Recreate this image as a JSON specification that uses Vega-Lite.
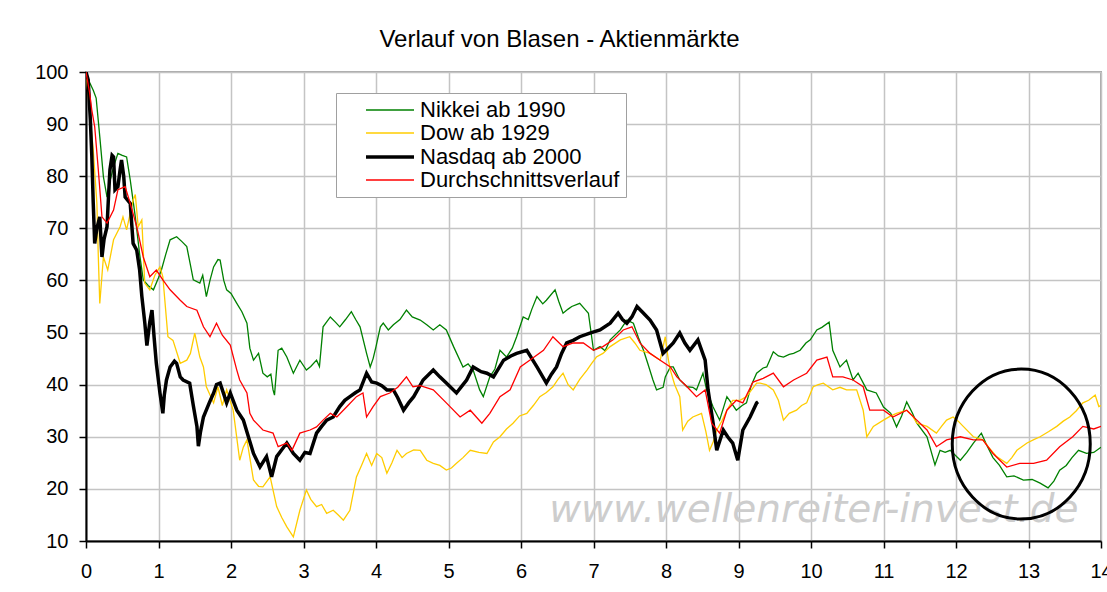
{
"$schema":"https://vega.github.io/schema/vega-lite/v6.json",
"width":1015,"height":469,
"autosize":{"type":"none"},
"padding":{"left":86,"top":72,"right":6,"bottom":51},
"background":"white",
"title":{"text":"Verlauf von Blasen - Aktienmärkte","fontSize":24,"font":"Liberation Sans","fontWeight":"normal","color":"#000","anchor":"middle","dx":-34,"offset":10},
"config":{
 "view":{"stroke":"#a8a8a8","strokeWidth":2},
 "axis":{"labelFont":"Liberation Sans","labelFontSize":20,"labelColor":"#000","labelFlush":false,"tickColor":"#000","tickSize":7,"tickWidth":1.5,"domainColor":"#000","domainWidth":2,"gridColor":"#c4c4c4","gridWidth":1.5,"title":null}
},
"datasets":{
"wm":[{"t":10.04,"value":15.9,"label":"www.wellenreiter-invest.de"}],
"circ":[{"t":12.9,"value":28.6}],
"main":[
{"series":"Nikkei ab 1990","t":0,"value":100},{"series":"Nikkei ab 1990","t":0.05,"value":98},{"series":"Nikkei ab 1990","t":0.1,"value":96.5},{"series":"Nikkei ab 1990","t":0.14,"value":95},{"series":"Nikkei ab 1990","t":0.19,"value":87.6},{"series":"Nikkei ab 1990","t":0.24,"value":79.9},{"series":"Nikkei ab 1990","t":0.29,"value":76},{"series":"Nikkei ab 1990","t":0.33,"value":79},{"series":"Nikkei ab 1990","t":0.38,"value":81.8},{"series":"Nikkei ab 1990","t":0.44,"value":84.4},{"series":"Nikkei ab 1990","t":0.5,"value":84},{"series":"Nikkei ab 1990","t":0.56,"value":83.7},{"series":"Nikkei ab 1990","t":0.61,"value":79.3},{"series":"Nikkei ab 1990","t":0.68,"value":72.2},{"series":"Nikkei ab 1990","t":0.74,"value":65},{"series":"Nikkei ab 1990","t":0.79,"value":60.1},{"series":"Nikkei ab 1990","t":0.86,"value":59},{"series":"Nikkei ab 1990","t":0.93,"value":58.2},{"series":"Nikkei ab 1990","t":1.0,"value":60.5},{"series":"Nikkei ab 1990","t":1.04,"value":62},{"series":"Nikkei ab 1990","t":1.1,"value":65},{"series":"Nikkei ab 1990","t":1.16,"value":67.8},{"series":"Nikkei ab 1990","t":1.25,"value":68.4},{"series":"Nikkei ab 1990","t":1.32,"value":67.5},{"series":"Nikkei ab 1990","t":1.39,"value":66.5},{"series":"Nikkei ab 1990","t":1.44,"value":63},{"series":"Nikkei ab 1990","t":1.48,"value":60.1},{"series":"Nikkei ab 1990","t":1.57,"value":59.5},{"series":"Nikkei ab 1990","t":1.61,"value":61},{"series":"Nikkei ab 1990","t":1.66,"value":56.9},{"series":"Nikkei ab 1990","t":1.71,"value":60},{"series":"Nikkei ab 1990","t":1.76,"value":62.6},{"series":"Nikkei ab 1990","t":1.82,"value":64},{"series":"Nikkei ab 1990","t":1.85,"value":63.9},{"series":"Nikkei ab 1990","t":1.9,"value":60},{"series":"Nikkei ab 1990","t":1.94,"value":58.2},{"series":"Nikkei ab 1990","t":2.0,"value":57.5},{"series":"Nikkei ab 1990","t":2.08,"value":55.6},{"series":"Nikkei ab 1990","t":2.15,"value":54},{"series":"Nikkei ab 1990","t":2.22,"value":51.8},{"series":"Nikkei ab 1990","t":2.26,"value":47},{"series":"Nikkei ab 1990","t":2.31,"value":44.7},{"series":"Nikkei ab 1990","t":2.38,"value":46},{"series":"Nikkei ab 1990","t":2.44,"value":42.2},{"series":"Nikkei ab 1990","t":2.5,"value":41.5},{"series":"Nikkei ab 1990","t":2.55,"value":42},{"series":"Nikkei ab 1990","t":2.58,"value":39},{"series":"Nikkei ab 1990","t":2.6,"value":38},{"series":"Nikkei ab 1990","t":2.65,"value":46.6},{"series":"Nikkei ab 1990","t":2.7,"value":47},{"series":"Nikkei ab 1990","t":2.77,"value":45.3},{"series":"Nikkei ab 1990","t":2.86,"value":42.2},{"series":"Nikkei ab 1990","t":2.95,"value":44.7},{"series":"Nikkei ab 1990","t":3.04,"value":42.8},{"series":"Nikkei ab 1990","t":3.1,"value":43.5},{"series":"Nikkei ab 1990","t":3.18,"value":44.7},{"series":"Nikkei ab 1990","t":3.22,"value":43.5},{"series":"Nikkei ab 1990","t":3.27,"value":51.1},{"series":"Nikkei ab 1990","t":3.37,"value":53},{"series":"Nikkei ab 1990","t":3.44,"value":52},{"series":"Nikkei ab 1990","t":3.5,"value":51.1},{"series":"Nikkei ab 1990","t":3.58,"value":52.5},{"series":"Nikkei ab 1990","t":3.66,"value":54},{"series":"Nikkei ab 1990","t":3.72,"value":52.5},{"series":"Nikkei ab 1990","t":3.78,"value":51.1},{"series":"Nikkei ab 1990","t":3.87,"value":46},{"series":"Nikkei ab 1990","t":3.92,"value":43.4},{"series":"Nikkei ab 1990","t":3.96,"value":45},{"series":"Nikkei ab 1990","t":4.0,"value":47.3},{"series":"Nikkei ab 1990","t":4.06,"value":51.1},{"series":"Nikkei ab 1990","t":4.1,"value":51.8},{"series":"Nikkei ab 1990","t":4.17,"value":50.5},{"series":"Nikkei ab 1990","t":4.24,"value":51.5},{"series":"Nikkei ab 1990","t":4.33,"value":52.5},{"series":"Nikkei ab 1990","t":4.42,"value":54.3},{"series":"Nikkei ab 1990","t":4.5,"value":53},{"series":"Nikkei ab 1990","t":4.61,"value":52.4},{"series":"Nikkei ab 1990","t":4.7,"value":51.5},{"series":"Nikkei ab 1990","t":4.79,"value":50.5},{"series":"Nikkei ab 1990","t":4.88,"value":51.5},{"series":"Nikkei ab 1990","t":4.97,"value":50.5},{"series":"Nikkei ab 1990","t":5.07,"value":47.3},{"series":"Nikkei ab 1990","t":5.2,"value":43.4},{"series":"Nikkei ab 1990","t":5.27,"value":44},{"series":"Nikkei ab 1990","t":5.34,"value":42.8},{"series":"Nikkei ab 1990","t":5.43,"value":39},{"series":"Nikkei ab 1990","t":5.48,"value":37.7},{"series":"Nikkei ab 1990","t":5.57,"value":41.5},{"series":"Nikkei ab 1990","t":5.64,"value":43},{"series":"Nikkei ab 1990","t":5.71,"value":46.6},{"series":"Nikkei ab 1990","t":5.8,"value":45.3},{"series":"Nikkei ab 1990","t":5.88,"value":47},{"series":"Nikkei ab 1990","t":5.94,"value":49.2},{"series":"Nikkei ab 1990","t":6.03,"value":53},{"series":"Nikkei ab 1990","t":6.1,"value":52.5},{"series":"Nikkei ab 1990","t":6.15,"value":54.5},{"series":"Nikkei ab 1990","t":6.22,"value":56.9},{"series":"Nikkei ab 1990","t":6.3,"value":55.5},{"series":"Nikkei ab 1990","t":6.35,"value":56.2},{"series":"Nikkei ab 1990","t":6.47,"value":58.2},{"series":"Nikkei ab 1990","t":6.52,"value":56},{"series":"Nikkei ab 1990","t":6.58,"value":53.7},{"series":"Nikkei ab 1990","t":6.65,"value":54.5},{"series":"Nikkei ab 1990","t":6.7,"value":55},{"series":"Nikkei ab 1990","t":6.81,"value":55.6},{"series":"Nikkei ab 1990","t":6.88,"value":54.5},{"series":"Nikkei ab 1990","t":6.93,"value":53.7},{"series":"Nikkei ab 1990","t":7.0,"value":46.6},{"series":"Nikkei ab 1990","t":7.09,"value":47.3},{"series":"Nikkei ab 1990","t":7.16,"value":46.5},{"series":"Nikkei ab 1990","t":7.23,"value":48.6},{"series":"Nikkei ab 1990","t":7.37,"value":50.5},{"series":"Nikkei ab 1990","t":7.46,"value":52.4},{"series":"Nikkei ab 1990","t":7.55,"value":51.8},{"series":"Nikkei ab 1990","t":7.62,"value":49},{"series":"Nikkei ab 1990","t":7.69,"value":46.6},{"series":"Nikkei ab 1990","t":7.75,"value":44},{"series":"Nikkei ab 1990","t":7.82,"value":40.9},{"series":"Nikkei ab 1990","t":7.87,"value":39},{"series":"Nikkei ab 1990","t":7.96,"value":39.5},{"series":"Nikkei ab 1990","t":7.99,"value":41.5},{"series":"Nikkei ab 1990","t":8.06,"value":43.4},{"series":"Nikkei ab 1990","t":8.1,"value":43.4},{"series":"Nikkei ab 1990","t":8.19,"value":40.9},{"series":"Nikkei ab 1990","t":8.29,"value":39.6},{"series":"Nikkei ab 1990","t":8.37,"value":39.5},{"series":"Nikkei ab 1990","t":8.42,"value":39},{"series":"Nikkei ab 1990","t":8.51,"value":42.2},{"series":"Nikkei ab 1990","t":8.56,"value":39},{"series":"Nikkei ab 1990","t":8.65,"value":35.7},{"series":"Nikkei ab 1990","t":8.74,"value":33.2},{"series":"Nikkei ab 1990","t":8.84,"value":37.7},{"series":"Nikkei ab 1990","t":8.9,"value":36.5},{"series":"Nikkei ab 1990","t":8.97,"value":35.1},{"series":"Nikkei ab 1990","t":9.05,"value":36},{"series":"Nikkei ab 1990","t":9.11,"value":36.5},{"series":"Nikkei ab 1990","t":9.18,"value":40},{"series":"Nikkei ab 1990","t":9.25,"value":42.2},{"series":"Nikkei ab 1990","t":9.34,"value":43.2},{"series":"Nikkei ab 1990","t":9.39,"value":43.4},{"series":"Nikkei ab 1990","t":9.48,"value":46.3},{"series":"Nikkei ab 1990","t":9.55,"value":45.5},{"series":"Nikkei ab 1990","t":9.62,"value":45.3},{"series":"Nikkei ab 1990","t":9.7,"value":45.8},{"series":"Nikkei ab 1990","t":9.76,"value":46},{"series":"Nikkei ab 1990","t":9.85,"value":46.6},{"series":"Nikkei ab 1990","t":9.93,"value":48},{"series":"Nikkei ab 1990","t":9.99,"value":48.6},{"series":"Nikkei ab 1990","t":10.08,"value":50.5},{"series":"Nikkei ab 1990","t":10.15,"value":51},{"series":"Nikkei ab 1990","t":10.25,"value":52},{"series":"Nikkei ab 1990","t":10.3,"value":46.6},{"series":"Nikkei ab 1990","t":10.4,"value":43.4},{"series":"Nikkei ab 1990","t":10.49,"value":44.7},{"series":"Nikkei ab 1990","t":10.58,"value":40.9},{"series":"Nikkei ab 1990","t":10.65,"value":42.2},{"series":"Nikkei ab 1990","t":10.77,"value":39},{"series":"Nikkei ab 1990","t":10.9,"value":38.4},{"series":"Nikkei ab 1990","t":11.0,"value":35.7},{"series":"Nikkei ab 1990","t":11.1,"value":34.5},{"series":"Nikkei ab 1990","t":11.18,"value":31.9},{"series":"Nikkei ab 1990","t":11.25,"value":34},{"series":"Nikkei ab 1990","t":11.32,"value":36.7},{"series":"Nikkei ab 1990","t":11.4,"value":34.5},{"series":"Nikkei ab 1990","t":11.46,"value":32.6},{"series":"Nikkei ab 1990","t":11.6,"value":30},{"series":"Nikkei ab 1990","t":11.71,"value":24.6},{"series":"Nikkei ab 1990","t":11.78,"value":27.4},{"series":"Nikkei ab 1990","t":11.85,"value":27},{"series":"Nikkei ab 1990","t":11.92,"value":27.4},{"series":"Nikkei ab 1990","t":12.06,"value":25.5},{"series":"Nikkei ab 1990","t":12.15,"value":27},{"series":"Nikkei ab 1990","t":12.24,"value":28.8},{"series":"Nikkei ab 1990","t":12.35,"value":30.7},{"series":"Nikkei ab 1990","t":12.42,"value":28.5},{"series":"Nikkei ab 1990","t":12.51,"value":26},{"series":"Nikkei ab 1990","t":12.6,"value":24.5},{"series":"Nikkei ab 1990","t":12.7,"value":22.3},{"series":"Nikkei ab 1990","t":12.8,"value":22.5},{"series":"Nikkei ab 1990","t":12.93,"value":21.7},{"series":"Nikkei ab 1990","t":13.05,"value":21.8},{"series":"Nikkei ab 1990","t":13.16,"value":21.1},{"series":"Nikkei ab 1990","t":13.27,"value":20.2},{"series":"Nikkei ab 1990","t":13.35,"value":21.5},{"series":"Nikkei ab 1990","t":13.43,"value":23.6},{"series":"Nikkei ab 1990","t":13.52,"value":24.5},{"series":"Nikkei ab 1990","t":13.6,"value":26},{"series":"Nikkei ab 1990","t":13.69,"value":27.4},{"series":"Nikkei ab 1990","t":13.8,"value":26.8},{"series":"Nikkei ab 1990","t":13.9,"value":27},{"series":"Nikkei ab 1990","t":14.0,"value":28},
{"series":"Dow ab 1929","t":0,"value":100},{"series":"Dow ab 1929","t":0.06,"value":90.8},{"series":"Dow ab 1929","t":0.1,"value":85},{"series":"Dow ab 1929","t":0.15,"value":74.8},{"series":"Dow ab 1929","t":0.17,"value":64.5},{"series":"Dow ab 1929","t":0.19,"value":55.6},{"series":"Dow ab 1929","t":0.24,"value":64.5},{"series":"Dow ab 1929","t":0.3,"value":62},{"series":"Dow ab 1929","t":0.38,"value":67.8},{"series":"Dow ab 1929","t":0.47,"value":70.3},{"series":"Dow ab 1929","t":0.51,"value":72.2},{"series":"Dow ab 1929","t":0.56,"value":69.7},{"series":"Dow ab 1929","t":0.65,"value":75.4},{"series":"Dow ab 1929","t":0.68,"value":76.5},{"series":"Dow ab 1929","t":0.72,"value":70.3},{"series":"Dow ab 1929","t":0.77,"value":71.6},{"series":"Dow ab 1929","t":0.81,"value":59.5},{"series":"Dow ab 1929","t":0.88,"value":58.2},{"series":"Dow ab 1929","t":0.95,"value":61},{"series":"Dow ab 1929","t":1.02,"value":62.6},{"series":"Dow ab 1929","t":1.06,"value":60.7},{"series":"Dow ab 1929","t":1.13,"value":49.2},{"series":"Dow ab 1929","t":1.2,"value":48.5},{"series":"Dow ab 1929","t":1.3,"value":44.1},{"series":"Dow ab 1929","t":1.39,"value":44.7},{"series":"Dow ab 1929","t":1.44,"value":46},{"series":"Dow ab 1929","t":1.5,"value":49.9},{"series":"Dow ab 1929","t":1.57,"value":45.3},{"series":"Dow ab 1929","t":1.62,"value":43.4},{"series":"Dow ab 1929","t":1.66,"value":39.6},{"series":"Dow ab 1929","t":1.76,"value":36.5},{"series":"Dow ab 1929","t":1.82,"value":39.6},{"series":"Dow ab 1929","t":1.88,"value":36},{"series":"Dow ab 1929","t":1.94,"value":39},{"series":"Dow ab 1929","t":2.03,"value":35.1},{"series":"Dow ab 1929","t":2.12,"value":25.5},{"series":"Dow ab 1929","t":2.17,"value":28},{"series":"Dow ab 1929","t":2.22,"value":29.4},{"series":"Dow ab 1929","t":2.31,"value":21.7},{"series":"Dow ab 1929","t":2.38,"value":20.5},{"series":"Dow ab 1929","t":2.44,"value":20.4},{"series":"Dow ab 1929","t":2.54,"value":22.3},{"series":"Dow ab 1929","t":2.63,"value":16.6},{"series":"Dow ab 1929","t":2.7,"value":14.5},{"series":"Dow ab 1929","t":2.77,"value":12.7},{"series":"Dow ab 1929","t":2.86,"value":10.8},{"series":"Dow ab 1929","t":2.95,"value":15.9},{"series":"Dow ab 1929","t":3.04,"value":19.8},{"series":"Dow ab 1929","t":3.1,"value":18},{"series":"Dow ab 1929","t":3.18,"value":16.6},{"series":"Dow ab 1929","t":3.25,"value":17},{"series":"Dow ab 1929","t":3.32,"value":15.3},{"series":"Dow ab 1929","t":3.41,"value":15.9},{"series":"Dow ab 1929","t":3.48,"value":15},{"series":"Dow ab 1929","t":3.55,"value":14},{"series":"Dow ab 1929","t":3.64,"value":15.9},{"series":"Dow ab 1929","t":3.73,"value":22.3},{"series":"Dow ab 1929","t":3.8,"value":24.5},{"series":"Dow ab 1929","t":3.87,"value":26.8},{"series":"Dow ab 1929","t":3.94,"value":24.5},{"series":"Dow ab 1929","t":4.01,"value":26.8},{"series":"Dow ab 1929","t":4.08,"value":26},{"series":"Dow ab 1929","t":4.15,"value":23},{"series":"Dow ab 1929","t":4.22,"value":25},{"series":"Dow ab 1929","t":4.29,"value":27.4},{"series":"Dow ab 1929","t":4.36,"value":26},{"series":"Dow ab 1929","t":4.42,"value":26.8},{"series":"Dow ab 1929","t":4.52,"value":27.5},{"series":"Dow ab 1929","t":4.61,"value":27.4},{"series":"Dow ab 1929","t":4.7,"value":25.5},{"series":"Dow ab 1929","t":4.79,"value":24.9},{"series":"Dow ab 1929","t":4.88,"value":24.5},{"series":"Dow ab 1929","t":4.97,"value":23.6},{"series":"Dow ab 1929","t":5.04,"value":24},{"series":"Dow ab 1929","t":5.11,"value":24.9},{"series":"Dow ab 1929","t":5.2,"value":26},{"series":"Dow ab 1929","t":5.3,"value":27.4},{"series":"Dow ab 1929","t":5.42,"value":27},{"series":"Dow ab 1929","t":5.53,"value":26.8},{"series":"Dow ab 1929","t":5.62,"value":29},{"series":"Dow ab 1929","t":5.71,"value":30},{"series":"Dow ab 1929","t":5.8,"value":31.5},{"series":"Dow ab 1929","t":5.89,"value":32.6},{"series":"Dow ab 1929","t":5.98,"value":34},{"series":"Dow ab 1929","t":6.08,"value":34.5},{"series":"Dow ab 1929","t":6.17,"value":36},{"series":"Dow ab 1929","t":6.26,"value":37.7},{"series":"Dow ab 1929","t":6.35,"value":38.5},{"series":"Dow ab 1929","t":6.44,"value":39.6},{"series":"Dow ab 1929","t":6.51,"value":41},{"series":"Dow ab 1929","t":6.58,"value":42.2},{"series":"Dow ab 1929","t":6.65,"value":40},{"series":"Dow ab 1929","t":6.72,"value":39},{"series":"Dow ab 1929","t":6.81,"value":41},{"series":"Dow ab 1929","t":6.91,"value":42.8},{"series":"Dow ab 1929","t":6.97,"value":44},{"series":"Dow ab 1929","t":7.04,"value":45.3},{"series":"Dow ab 1929","t":7.13,"value":46},{"series":"Dow ab 1929","t":7.23,"value":47.3},{"series":"Dow ab 1929","t":7.37,"value":48.6},{"series":"Dow ab 1929","t":7.5,"value":49.2},{"series":"Dow ab 1929","t":7.57,"value":48},{"series":"Dow ab 1929","t":7.64,"value":46.6},{"series":"Dow ab 1929","t":7.78,"value":46},{"series":"Dow ab 1929","t":7.92,"value":44.7},{"series":"Dow ab 1929","t":7.99,"value":49.2},{"series":"Dow ab 1929","t":8.03,"value":45},{"series":"Dow ab 1929","t":8.06,"value":42.8},{"series":"Dow ab 1929","t":8.12,"value":40},{"series":"Dow ab 1929","t":8.19,"value":37.7},{"series":"Dow ab 1929","t":8.23,"value":31.3},{"series":"Dow ab 1929","t":8.3,"value":33},{"series":"Dow ab 1929","t":8.37,"value":33.8},{"series":"Dow ab 1929","t":8.49,"value":34.5},{"series":"Dow ab 1929","t":8.55,"value":31},{"series":"Dow ab 1929","t":8.6,"value":27.4},{"series":"Dow ab 1929","t":8.65,"value":29},{"series":"Dow ab 1929","t":8.7,"value":31.3},{"series":"Dow ab 1929","t":8.77,"value":33},{"series":"Dow ab 1929","t":8.84,"value":35.1},{"series":"Dow ab 1929","t":8.92,"value":37},{"series":"Dow ab 1929","t":9.02,"value":37},{"series":"Dow ab 1929","t":9.11,"value":37.7},{"series":"Dow ab 1929","t":9.18,"value":39},{"series":"Dow ab 1929","t":9.25,"value":40.3},{"series":"Dow ab 1929","t":9.3,"value":40.3},{"series":"Dow ab 1929","t":9.38,"value":40},{"series":"Dow ab 1929","t":9.48,"value":39},{"series":"Dow ab 1929","t":9.55,"value":37},{"series":"Dow ab 1929","t":9.62,"value":33.2},{"series":"Dow ab 1929","t":9.7,"value":34.5},{"series":"Dow ab 1929","t":9.8,"value":35.1},{"series":"Dow ab 1929","t":9.87,"value":36},{"series":"Dow ab 1929","t":9.94,"value":36.5},{"series":"Dow ab 1929","t":10.03,"value":39.6},{"series":"Dow ab 1929","t":10.1,"value":40},{"series":"Dow ab 1929","t":10.17,"value":40.3},{"series":"Dow ab 1929","t":10.3,"value":39},{"series":"Dow ab 1929","t":10.4,"value":39.5},{"series":"Dow ab 1929","t":10.49,"value":39},{"series":"Dow ab 1929","t":10.63,"value":39},{"series":"Dow ab 1929","t":10.72,"value":35.1},{"series":"Dow ab 1929","t":10.77,"value":30},{"series":"Dow ab 1929","t":10.86,"value":32},{"series":"Dow ab 1929","t":11.0,"value":33.2},{"series":"Dow ab 1929","t":11.1,"value":34},{"series":"Dow ab 1929","t":11.18,"value":34.5},{"series":"Dow ab 1929","t":11.32,"value":35.1},{"series":"Dow ab 1929","t":11.4,"value":34},{"series":"Dow ab 1929","t":11.46,"value":32.6},{"series":"Dow ab 1929","t":11.6,"value":32},{"series":"Dow ab 1929","t":11.73,"value":30.7},{"series":"Dow ab 1929","t":11.8,"value":32},{"series":"Dow ab 1929","t":11.87,"value":33.2},{"series":"Dow ab 1929","t":11.96,"value":33.8},{"series":"Dow ab 1929","t":12.03,"value":33},{"series":"Dow ab 1929","t":12.1,"value":32},{"series":"Dow ab 1929","t":12.24,"value":30},{"series":"Dow ab 1929","t":12.37,"value":29.4},{"series":"Dow ab 1929","t":12.45,"value":28},{"series":"Dow ab 1929","t":12.56,"value":26.2},{"series":"Dow ab 1929","t":12.7,"value":24.9},{"series":"Dow ab 1929","t":12.77,"value":26},{"series":"Dow ab 1929","t":12.84,"value":27.4},{"series":"Dow ab 1929","t":12.98,"value":28.8},{"series":"Dow ab 1929","t":13.08,"value":29.5},{"series":"Dow ab 1929","t":13.16,"value":30},{"series":"Dow ab 1929","t":13.28,"value":31},{"series":"Dow ab 1929","t":13.39,"value":32},{"series":"Dow ab 1929","t":13.48,"value":33},{"series":"Dow ab 1929","t":13.57,"value":33.8},{"series":"Dow ab 1929","t":13.66,"value":35},{"series":"Dow ab 1929","t":13.75,"value":36.5},{"series":"Dow ab 1929","t":13.83,"value":37},{"series":"Dow ab 1929","t":13.92,"value":38},{"series":"Dow ab 1929","t":13.97,"value":35.8},{"series":"Dow ab 1929","t":14.0,"value":36},
{"series":"Nasdaq ab 2000","t":0,"value":100},{"series":"Nasdaq ab 2000","t":0.03,"value":98.5},{"series":"Nasdaq ab 2000","t":0.06,"value":90.8},{"series":"Nasdaq ab 2000","t":0.08,"value":84},{"series":"Nasdaq ab 2000","t":0.1,"value":74.8},{"series":"Nasdaq ab 2000","t":0.12,"value":67.1},{"series":"Nasdaq ab 2000","t":0.15,"value":70},{"series":"Nasdaq ab 2000","t":0.19,"value":72.2},{"series":"Nasdaq ab 2000","t":0.22,"value":64.5},{"series":"Nasdaq ab 2000","t":0.25,"value":68},{"series":"Nasdaq ab 2000","t":0.29,"value":70.3},{"series":"Nasdaq ab 2000","t":0.31,"value":76},{"series":"Nasdaq ab 2000","t":0.33,"value":81.2},{"series":"Nasdaq ab 2000","t":0.36,"value":84},{"series":"Nasdaq ab 2000","t":0.38,"value":83.7},{"series":"Nasdaq ab 2000","t":0.4,"value":77.4},{"series":"Nasdaq ab 2000","t":0.44,"value":78},{"series":"Nasdaq ab 2000","t":0.47,"value":81.2},{"series":"Nasdaq ab 2000","t":0.49,"value":83.1},{"series":"Nasdaq ab 2000","t":0.52,"value":80},{"series":"Nasdaq ab 2000","t":0.54,"value":76},{"series":"Nasdaq ab 2000","t":0.61,"value":74.8},{"series":"Nasdaq ab 2000","t":0.65,"value":67.1},{"series":"Nasdaq ab 2000","t":0.7,"value":65.8},{"series":"Nasdaq ab 2000","t":0.74,"value":62},{"series":"Nasdaq ab 2000","t":0.77,"value":57},{"series":"Nasdaq ab 2000","t":0.81,"value":52},{"series":"Nasdaq ab 2000","t":0.84,"value":47.5},{"series":"Nasdaq ab 2000","t":0.88,"value":52},{"series":"Nasdaq ab 2000","t":0.91,"value":54.3},{"series":"Nasdaq ab 2000","t":0.94,"value":49},{"series":"Nasdaq ab 2000","t":0.97,"value":44.1},{"series":"Nasdaq ab 2000","t":1.02,"value":38.4},{"series":"Nasdaq ab 2000","t":1.06,"value":34.5},{"series":"Nasdaq ab 2000","t":1.08,"value":38},{"series":"Nasdaq ab 2000","t":1.11,"value":40.9},{"series":"Nasdaq ab 2000","t":1.16,"value":43.4},{"series":"Nasdaq ab 2000","t":1.22,"value":44.5},{"series":"Nasdaq ab 2000","t":1.25,"value":44.1},{"series":"Nasdaq ab 2000","t":1.3,"value":41.5},{"series":"Nasdaq ab 2000","t":1.34,"value":40.9},{"series":"Nasdaq ab 2000","t":1.43,"value":40.3},{"series":"Nasdaq ab 2000","t":1.48,"value":36},{"series":"Nasdaq ab 2000","t":1.53,"value":32},{"series":"Nasdaq ab 2000","t":1.55,"value":28.2},{"series":"Nasdaq ab 2000","t":1.58,"value":31},{"series":"Nasdaq ab 2000","t":1.62,"value":33.8},{"series":"Nasdaq ab 2000","t":1.7,"value":36.5},{"series":"Nasdaq ab 2000","t":1.76,"value":38.4},{"series":"Nasdaq ab 2000","t":1.8,"value":40},{"series":"Nasdaq ab 2000","t":1.85,"value":40.3},{"series":"Nasdaq ab 2000","t":1.94,"value":36.5},{"series":"Nasdaq ab 2000","t":1.99,"value":38.4},{"series":"Nasdaq ab 2000","t":2.08,"value":35.1},{"series":"Nasdaq ab 2000","t":2.17,"value":33.2},{"series":"Nasdaq ab 2000","t":2.24,"value":30},{"series":"Nasdaq ab 2000","t":2.31,"value":26.8},{"series":"Nasdaq ab 2000","t":2.4,"value":24.2},{"series":"Nasdaq ab 2000","t":2.49,"value":26.2},{"series":"Nasdaq ab 2000","t":2.56,"value":22.3},{"series":"Nasdaq ab 2000","t":2.63,"value":26.2},{"series":"Nasdaq ab 2000","t":2.7,"value":27.5},{"series":"Nasdaq ab 2000","t":2.77,"value":28.8},{"series":"Nasdaq ab 2000","t":2.86,"value":26.8},{"series":"Nasdaq ab 2000","t":2.95,"value":25.5},{"series":"Nasdaq ab 2000","t":3.02,"value":27},{"series":"Nasdaq ab 2000","t":3.09,"value":26.8},{"series":"Nasdaq ab 2000","t":3.18,"value":30.7},{"series":"Nasdaq ab 2000","t":3.25,"value":32},{"series":"Nasdaq ab 2000","t":3.32,"value":33.2},{"series":"Nasdaq ab 2000","t":3.41,"value":33.8},{"series":"Nasdaq ab 2000","t":3.5,"value":35.8},{"series":"Nasdaq ab 2000","t":3.57,"value":37},{"series":"Nasdaq ab 2000","t":3.64,"value":37.7},{"series":"Nasdaq ab 2000","t":3.72,"value":38.5},{"series":"Nasdaq ab 2000","t":3.78,"value":39},{"series":"Nasdaq ab 2000","t":3.87,"value":42.2},{"series":"Nasdaq ab 2000","t":3.94,"value":40.5},{"series":"Nasdaq ab 2000","t":4.01,"value":40.3},{"series":"Nasdaq ab 2000","t":4.08,"value":39.8},{"series":"Nasdaq ab 2000","t":4.15,"value":39},{"series":"Nasdaq ab 2000","t":4.24,"value":39},{"series":"Nasdaq ab 2000","t":4.3,"value":37.5},{"series":"Nasdaq ab 2000","t":4.38,"value":35.1},{"series":"Nasdaq ab 2000","t":4.45,"value":36.5},{"series":"Nasdaq ab 2000","t":4.52,"value":37.7},{"series":"Nasdaq ab 2000","t":4.65,"value":40.9},{"series":"Nasdaq ab 2000","t":4.79,"value":42.8},{"series":"Nasdaq ab 2000","t":4.88,"value":41.5},{"series":"Nasdaq ab 2000","t":4.97,"value":40.3},{"series":"Nasdaq ab 2000","t":5.11,"value":38.4},{"series":"Nasdaq ab 2000","t":5.2,"value":40},{"series":"Nasdaq ab 2000","t":5.25,"value":40.9},{"series":"Nasdaq ab 2000","t":5.34,"value":43.4},{"series":"Nasdaq ab 2000","t":5.45,"value":42.5},{"series":"Nasdaq ab 2000","t":5.53,"value":42.2},{"series":"Nasdaq ab 2000","t":5.62,"value":41.5},{"series":"Nasdaq ab 2000","t":5.76,"value":44.7},{"series":"Nasdaq ab 2000","t":5.86,"value":45.5},{"series":"Nasdaq ab 2000","t":5.94,"value":46},{"series":"Nasdaq ab 2000","t":6.08,"value":46.6},{"series":"Nasdaq ab 2000","t":6.15,"value":45},{"series":"Nasdaq ab 2000","t":6.22,"value":43.4},{"series":"Nasdaq ab 2000","t":6.35,"value":40.3},{"series":"Nasdaq ab 2000","t":6.42,"value":42},{"series":"Nasdaq ab 2000","t":6.49,"value":43.4},{"series":"Nasdaq ab 2000","t":6.56,"value":46},{"series":"Nasdaq ab 2000","t":6.63,"value":48},{"series":"Nasdaq ab 2000","t":6.72,"value":48.5},{"series":"Nasdaq ab 2000","t":6.81,"value":49.2},{"series":"Nasdaq ab 2000","t":6.95,"value":49.9},{"series":"Nasdaq ab 2000","t":7.09,"value":50.5},{"series":"Nasdaq ab 2000","t":7.23,"value":51.8},{"series":"Nasdaq ab 2000","t":7.34,"value":53.7},{"series":"Nasdaq ab 2000","t":7.4,"value":52.5},{"series":"Nasdaq ab 2000","t":7.46,"value":51.8},{"series":"Nasdaq ab 2000","t":7.53,"value":53},{"series":"Nasdaq ab 2000","t":7.6,"value":55},{"series":"Nasdaq ab 2000","t":7.69,"value":53.7},{"series":"Nasdaq ab 2000","t":7.78,"value":52.4},{"series":"Nasdaq ab 2000","t":7.87,"value":50.5},{"series":"Nasdaq ab 2000","t":7.96,"value":46},{"series":"Nasdaq ab 2000","t":8.03,"value":47},{"series":"Nasdaq ab 2000","t":8.1,"value":48},{"series":"Nasdaq ab 2000","t":8.19,"value":49.9},{"series":"Nasdaq ab 2000","t":8.26,"value":48},{"series":"Nasdaq ab 2000","t":8.33,"value":46.6},{"series":"Nasdaq ab 2000","t":8.44,"value":48.6},{"series":"Nasdaq ab 2000","t":8.54,"value":44.7},{"series":"Nasdaq ab 2000","t":8.58,"value":39},{"series":"Nasdaq ab 2000","t":8.65,"value":32.6},{"series":"Nasdaq ab 2000","t":8.7,"value":27.4},{"series":"Nasdaq ab 2000","t":8.79,"value":31.3},{"series":"Nasdaq ab 2000","t":8.85,"value":30},{"series":"Nasdaq ab 2000","t":8.92,"value":28.8},{"series":"Nasdaq ab 2000","t":8.99,"value":25.5},{"series":"Nasdaq ab 2000","t":9.06,"value":31.3},{"series":"Nasdaq ab 2000","t":9.16,"value":33.8},{"series":"Nasdaq ab 2000","t":9.25,"value":36.5},{"series":"Nasdaq ab 2000","t":9.27,"value":36.7},
{"series":"Durchschnittsverlauf","t":0,"value":100},{"series":"Durchschnittsverlauf","t":0.05,"value":96},{"series":"Durchschnittsverlauf","t":0.08,"value":92.7},{"series":"Durchschnittsverlauf","t":0.12,"value":89.5},{"series":"Durchschnittsverlauf","t":0.17,"value":81.2},{"series":"Durchschnittsverlauf","t":0.22,"value":72.2},{"series":"Durchschnittsverlauf","t":0.29,"value":71},{"series":"Durchschnittsverlauf","t":0.38,"value":73.5},{"series":"Durchschnittsverlauf","t":0.44,"value":77.4},{"series":"Durchschnittsverlauf","t":0.54,"value":78},{"series":"Durchschnittsverlauf","t":0.61,"value":74.8},{"series":"Durchschnittsverlauf","t":0.7,"value":70.3},{"series":"Durchschnittsverlauf","t":0.79,"value":64.5},{"series":"Durchschnittsverlauf","t":0.88,"value":60.7},{"series":"Durchschnittsverlauf","t":0.97,"value":62},{"series":"Durchschnittsverlauf","t":1.06,"value":60.1},{"series":"Durchschnittsverlauf","t":1.16,"value":58.2},{"series":"Durchschnittsverlauf","t":1.3,"value":56.2},{"series":"Durchschnittsverlauf","t":1.39,"value":55},{"series":"Durchschnittsverlauf","t":1.53,"value":54.3},{"series":"Durchschnittsverlauf","t":1.62,"value":51.1},{"series":"Durchschnittsverlauf","t":1.71,"value":49.2},{"series":"Durchschnittsverlauf","t":1.8,"value":51.8},{"series":"Durchschnittsverlauf","t":1.88,"value":49.5},{"series":"Durchschnittsverlauf","t":1.99,"value":47.6},{"series":"Durchschnittsverlauf","t":2.08,"value":42.8},{"series":"Durchschnittsverlauf","t":2.12,"value":40.9},{"series":"Durchschnittsverlauf","t":2.22,"value":38.4},{"series":"Durchschnittsverlauf","t":2.26,"value":34.5},{"series":"Durchschnittsverlauf","t":2.31,"value":33.2},{"series":"Durchschnittsverlauf","t":2.44,"value":31.3},{"series":"Durchschnittsverlauf","t":2.58,"value":30.7},{"series":"Durchschnittsverlauf","t":2.65,"value":28.1},{"series":"Durchschnittsverlauf","t":2.77,"value":28.8},{"series":"Durchschnittsverlauf","t":2.84,"value":27.4},{"series":"Durchschnittsverlauf","t":2.95,"value":30.7},{"series":"Durchschnittsverlauf","t":3.09,"value":31.3},{"series":"Durchschnittsverlauf","t":3.18,"value":31.9},{"series":"Durchschnittsverlauf","t":3.27,"value":33.2},{"series":"Durchschnittsverlauf","t":3.37,"value":34.5},{"series":"Durchschnittsverlauf","t":3.46,"value":33.8},{"series":"Durchschnittsverlauf","t":3.6,"value":35.8},{"series":"Durchschnittsverlauf","t":3.73,"value":37.7},{"series":"Durchschnittsverlauf","t":3.82,"value":38.4},{"series":"Durchschnittsverlauf","t":3.87,"value":33.8},{"series":"Durchschnittsverlauf","t":3.96,"value":35.8},{"series":"Durchschnittsverlauf","t":4.06,"value":37.7},{"series":"Durchschnittsverlauf","t":4.19,"value":38.4},{"series":"Durchschnittsverlauf","t":4.3,"value":39.5},{"series":"Durchschnittsverlauf","t":4.42,"value":41.5},{"series":"Durchschnittsverlauf","t":4.51,"value":39.6},{"series":"Durchschnittsverlauf","t":4.61,"value":39.8},{"series":"Durchschnittsverlauf","t":4.79,"value":39},{"series":"Durchschnittsverlauf","t":4.97,"value":36.5},{"series":"Durchschnittsverlauf","t":5.16,"value":33.8},{"series":"Durchschnittsverlauf","t":5.3,"value":35.1},{"series":"Durchschnittsverlauf","t":5.46,"value":32.6},{"series":"Durchschnittsverlauf","t":5.57,"value":34.5},{"series":"Durchschnittsverlauf","t":5.71,"value":37.7},{"series":"Durchschnittsverlauf","t":5.85,"value":39},{"series":"Durchschnittsverlauf","t":5.99,"value":43.4},{"series":"Durchschnittsverlauf","t":6.12,"value":44.7},{"series":"Durchschnittsverlauf","t":6.31,"value":46.6},{"series":"Durchschnittsverlauf","t":6.44,"value":49.2},{"series":"Durchschnittsverlauf","t":6.58,"value":47.3},{"series":"Durchschnittsverlauf","t":6.72,"value":48},{"series":"Durchschnittsverlauf","t":6.86,"value":48},{"series":"Durchschnittsverlauf","t":7.0,"value":46.6},{"series":"Durchschnittsverlauf","t":7.13,"value":47.3},{"series":"Durchschnittsverlauf","t":7.27,"value":48.6},{"series":"Durchschnittsverlauf","t":7.41,"value":50.5},{"series":"Durchschnittsverlauf","t":7.53,"value":51.1},{"series":"Durchschnittsverlauf","t":7.64,"value":48},{"series":"Durchschnittsverlauf","t":7.78,"value":46},{"series":"Durchschnittsverlauf","t":7.92,"value":44.7},{"series":"Durchschnittsverlauf","t":8.06,"value":43.4},{"series":"Durchschnittsverlauf","t":8.15,"value":41.5},{"series":"Durchschnittsverlauf","t":8.29,"value":39.6},{"series":"Durchschnittsverlauf","t":8.42,"value":37.7},{"series":"Durchschnittsverlauf","t":8.54,"value":39},{"series":"Durchschnittsverlauf","t":8.63,"value":32.6},{"series":"Durchschnittsverlauf","t":8.74,"value":30.7},{"series":"Durchschnittsverlauf","t":8.84,"value":35.1},{"series":"Durchschnittsverlauf","t":8.97,"value":37},{"series":"Durchschnittsverlauf","t":9.06,"value":36.5},{"series":"Durchschnittsverlauf","t":9.2,"value":40.5},{"series":"Durchschnittsverlauf","t":9.34,"value":41.2},{"series":"Durchschnittsverlauf","t":9.48,"value":42.2},{"series":"Durchschnittsverlauf","t":9.62,"value":39.6},{"series":"Durchschnittsverlauf","t":9.76,"value":40.9},{"series":"Durchschnittsverlauf","t":9.94,"value":42.2},{"series":"Durchschnittsverlauf","t":10.08,"value":44.7},{"series":"Durchschnittsverlauf","t":10.22,"value":45.3},{"series":"Durchschnittsverlauf","t":10.3,"value":41.5},{"series":"Durchschnittsverlauf","t":10.44,"value":41.5},{"series":"Durchschnittsverlauf","t":10.58,"value":40.9},{"series":"Durchschnittsverlauf","t":10.72,"value":39.6},{"series":"Durchschnittsverlauf","t":10.81,"value":35.1},{"series":"Durchschnittsverlauf","t":11.0,"value":35.1},{"series":"Durchschnittsverlauf","t":11.13,"value":33.8},{"series":"Durchschnittsverlauf","t":11.32,"value":35.1},{"series":"Durchschnittsverlauf","t":11.46,"value":33.2},{"series":"Durchschnittsverlauf","t":11.6,"value":31.3},{"series":"Durchschnittsverlauf","t":11.73,"value":28.1},{"series":"Durchschnittsverlauf","t":11.87,"value":29.4},{"series":"Durchschnittsverlauf","t":12.06,"value":30},{"series":"Durchschnittsverlauf","t":12.24,"value":29.4},{"series":"Durchschnittsverlauf","t":12.37,"value":29.4},{"series":"Durchschnittsverlauf","t":12.51,"value":26.8},{"series":"Durchschnittsverlauf","t":12.7,"value":24.2},{"series":"Durchschnittsverlauf","t":12.88,"value":24.9},{"series":"Durchschnittsverlauf","t":13.07,"value":24.9},{"series":"Durchschnittsverlauf","t":13.25,"value":25.5},{"series":"Durchschnittsverlauf","t":13.43,"value":28.1},{"series":"Durchschnittsverlauf","t":13.61,"value":30},{"series":"Durchschnittsverlauf","t":13.75,"value":32},{"series":"Durchschnittsverlauf","t":13.9,"value":31.5},{"series":"Durchschnittsverlauf","t":14.0,"value":32}
]},
"layer":[
{"data":{"name":"wm"},"mark":{"type":"text","font":"DejaVu Sans","fontStyle":"italic","fontSize":39,"color":"#cdcdcd","align":"center","baseline":"middle"},
 "encoding":{"x":{"field":"t","type":"quantitative"},"y":{"field":"value","type":"quantitative"},"text":{"field":"label"}}},
{"data":{"name":"main"},"mark":{"type":"line","clip":true},
 "encoding":{
  "x":{"field":"t","type":"quantitative","scale":{"domain":[0,14],"nice":false,"zero":false},"axis":{"values":[0,1,2,3,4,5,6,7,8,9,10,11,12,13,14],"format":"d","labelPadding":13,"grid":true}},
  "y":{"field":"value","type":"quantitative","scale":{"domain":[10,100],"nice":false,"zero":false},"axis":{"values":[10,20,30,40,50,60,70,80,90,100],"format":"d","labelPadding":11,"grid":true}},
  "color":{"field":"series","type":"nominal","scale":{"domain":["Nikkei ab 1990","Dow ab 1929","Nasdaq ab 2000","Durchschnittsverlauf"],"range":["#008000","#ffcc00","#000000","#ff0000"]},
   "legend":{"title":null,"orient":"none","legendX":250,"legendY":21,"symbolType":"M -2.4 0 H 2.4","symbolSize":400,"labelFont":"Liberation Sans","labelFontSize":22,"labelColor":"#000","labelLimit":400,"labelExpr":"datum.label + '\u00a0\u00a0\u00a0\u00a0\u00a0\u00a0\u00a0'","padding":6,"symbolOffset":36,"labelOffset":18,"rowPadding":1,"strokeColor":"#a0a0a0","fillColor":"#ffffff"}},
  "strokeWidth":{"field":"series","type":"nominal","scale":{"type":"ordinal","domain":["Nikkei ab 1990","Dow ab 1929","Nasdaq ab 2000","Durchschnittsverlauf"],"range":[1.3,1.3,3.5,1.3]},
   "legend":{"title":null,"orient":"none","legendX":250,"legendY":21,"symbolType":"M -2.4 0 H 2.4","symbolSize":400,"labelFont":"Liberation Sans","labelFontSize":22,"labelColor":"#000","labelLimit":400,"labelExpr":"datum.label + '\u00a0\u00a0\u00a0\u00a0\u00a0\u00a0\u00a0'","padding":6,"symbolOffset":36,"labelOffset":18,"rowPadding":1,"strokeColor":"#a0a0a0","fillColor":"#ffffff"}},
  "order":{"field":"t","type":"quantitative"}
 }},
{"data":{"name":"circ"},"mark":{"type":"point","shape":"M -0.92 0 A 0.92 1 0 1 1 0.92 0 A 0.92 1 0 1 1 -0.92 0 Z","size":22500,"filled":false,"color":"#000","strokeWidth":3,"opacity":1},
 "encoding":{"x":{"field":"t","type":"quantitative"},"y":{"field":"value","type":"quantitative"}}}
]
}
